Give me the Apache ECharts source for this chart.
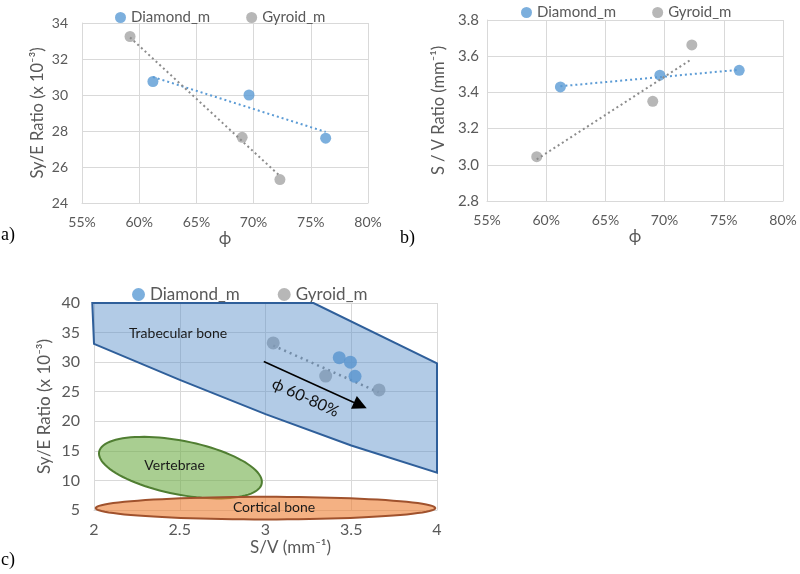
<!DOCTYPE html>
<html>
<head>
<meta charset="utf-8">
<script src="https://cdn.jsdelivr.net/npm/echarts@6/dist/echarts.min.js"></script>
<style>html,body{margin:0;padding:0;background:#fff;}#main{width:800px;height:574px;}</style>
</head>
<body>
<div id="main"></div>
<script>
// ---- data ----
const seriesNames = ['Diamond_m', 'Gyroid_m'];
const phiDiamond = [61.2, 69.6, 76.3];          // porosity %
const phiGyroid = [59.2, 69.0, 72.3];
const syeDiamond = [30.75, 30.0, 27.6];          // Sy/E ratio (x10^-3)
const syeGyroid = [33.25, 27.65, 25.3];
const svDiamond = [3.43, 3.495, 3.522];          // S/V ratio (mm^-1)
const svGyroid = [3.045, 3.351, 3.662];

// trendline end points
const trendADiamond = [[61.2, 31.0], [76.3, 27.95]];
const trendAGyroid = [[59.2, 33.2], [72.3, 25.5]];
const trendBDiamond = [[61.2, 3.434], [76.3, 3.525]];
const trendBGyroid = [[59.2, 3.03], [72.2, 3.58]];
const trendCGyroid = [[3.045, 32.8], [3.66, 24.9]];

// tick settings
const phiTicks = {min: 55, max: 80, interval: 5};
const syeTicksA = {min: 24, max: 34, interval: 2};
const svTicksB = {min: 2.8, max: 3.8, interval: 0.2};
const svTicksC = {min: 2, max: 4, interval: 0.5};
const syeTicksC = {min: 5, max: 40, interval: 5};

// regions in panel c (data coordinates)
const trabecularVerts = [[1.99, 40], [3.28, 40], [4.0, 29.8], [4.0, 11.3], [3.5, 15.9], [3.0, 21.2], [2.5, 27.0], [2.0, 33.1]];
const vertebraeEllipse = {center: [2.504, 12.16], a: [0.474, -2.69], b: [-0.030, -4.46]};
const corticalEllipse = {center: [3.0, 5.32], a: [0.99, 0], b: [0, 1.91]};
const regionLabels = [
  {name: 'Trabecular bone', pos: [2.49, 34.8]},
  {name: 'Vertebrae', pos: [2.47, 12.6]},
  {name: 'Cortical bone', pos: [3.05, 5.4]}
];
const arrowC = [[2.99, 30.1], [3.59, 22.2]];
const arrowText = 'ϕ 60-80%';

// ---- chart ----
const chart = echarts.init(document.getElementById('main'));
const FONT = 'Lato, "Open Sans", sans-serif';
const TXT = '#595959';
const GRID = '#d9d9d9';
const BLUE = '#5b9bd5';
const GRAY = '#a5a5a5';

function pts(xs, ys) { return xs.map((x, i) => [x, ys[i]]); }

function xAxisCfg(idx, ticks, fmt, name, fs, nameGap, nameFs, extra) {
  return Object.assign({
    type: 'value', gridIndex: idx, min: ticks.min, max: ticks.max, interval: ticks.interval,
    name: name, nameLocation: 'middle', nameGap: nameGap,
    nameTextStyle: {color: TXT, fontSize: nameFs, fontFamily: FONT},
    axisLine: {show: true, lineStyle: {color: GRID, width: 1}},
    axisTick: {show: false},
    axisLabel: {color: TXT, fontSize: fs, fontFamily: FONT, margin: 12, formatter: fmt},
    splitLine: {show: true, lineStyle: {color: GRID, width: 1}}
  }, extra || {});
}
function yAxisCfg(idx, ticks, fmt, name, fs, nameGap, nameFs, margin) {
  return {
    type: 'value', gridIndex: idx, min: ticks.min, max: ticks.max, interval: ticks.interval,
    name: name, nameLocation: 'middle', nameGap: nameGap, nameRotate: 90,
    nameTextStyle: {color: TXT, fontSize: nameFs, fontFamily: FONT},
    axisLine: {show: true, lineStyle: {color: GRID, width: 1}},
    axisTick: {show: false},
    axisLabel: {color: TXT, fontSize: fs, fontFamily: FONT, margin: margin, formatter: fmt},
    splitLine: {show: true, lineStyle: {color: GRID, width: 1}}
  };
}

function ellipsePoints(e, api) {
  const out = [];
  for (let k = 0; k < 96; k++) {
    const t = k / 96 * Math.PI * 2;
    const c = Math.cos(t), s = Math.sin(t);
    out.push(api.coord([e.center[0] + e.a[0] * c + e.b[0] * s, e.center[1] + e.a[1] * c + e.b[1] * s]));
  }
  return out;
}

function arrowRender(p, api) {
  const s = api.coord(arrowC[0]), e = api.coord(arrowC[1]);
  const dx = e[0] - s[0], dy = e[1] - s[1], L = Math.hypot(dx, dy);
  const ux = dx / L, uy = dy / L, nx = -uy, ny = ux;
  const hl = 14, hw = 7;
  const bx = e[0] - ux * hl, by = e[1] - uy * hl;
  const mx = (s[0] + e[0]) / 2 + nx * 14, my = (s[1] + e[1]) / 2 + ny * 14;
  return {type: 'group', children: [
    {type: 'line', shape: {x1: s[0], y1: s[1], x2: bx, y2: by}, style: {stroke: '#000', lineWidth: 1.5}},
    {type: 'polygon', shape: {points: [e, [bx + nx * hw, by + ny * hw], [bx - nx * hw, by - ny * hw]]},
     style: {fill: '#000'}},
    {type: 'text', x: mx - 4, y: my, rotation: -Math.atan2(dy, dx),
     style: {text: arrowText, fill: '#111', font: '16px ' + FONT, align: 'center', verticalAlign: 'middle',
             textAlign: 'center', textVerticalAlign: 'middle'}}
  ]};
}

const pctFmt = v => Math.round(v) + '%';

const option = {
  animation: false,
  backgroundColor: '#fff',
  grid: [
    {left: 82, top: 23, width: 286, height: 180},
    {left: 487, top: 20, width: 296, height: 181},
    {left: 94, top: 303, width: 343, height: 207}
  ],
  legend: [
    {data: seriesNames, left: 110, top: 5, icon: 'circle', itemWidth: 11, itemHeight: 11, itemGap: 36,
     textStyle: {color: TXT, fontSize: 15, fontFamily: FONT}, selectedMode: false},
    {data: seriesNames, left: 516, top: 0, icon: 'circle', itemWidth: 11, itemHeight: 11, itemGap: 36,
     textStyle: {color: TXT, fontSize: 15, fontFamily: FONT}, selectedMode: false},
    {data: seriesNames, left: 127, top: 281, icon: 'circle', itemWidth: 13, itemHeight: 13, itemGap: 38,
     textStyle: {color: TXT, fontSize: 17, fontFamily: FONT}, selectedMode: false}
  ],
  xAxis: [
    xAxisCfg(0, phiTicks, pctFmt, 'ϕ', 14, 15, 17),
    xAxisCfg(1, phiTicks, pctFmt, 'ϕ', 14, 15, 17),
    xAxisCfg(2, svTicksC, v => String(v), 'S/V (mm⁻¹)', 16, 25, 17,
      {nameTextStyle: {color: TXT, fontSize: 17, fontFamily: FONT, padding: [0, 0, 0, 50]}})
  ],
  yAxis: [
    yAxisCfg(0, syeTicksA, v => String(Math.round(v)), 'Sy/E Ratio (x 10⁻³)', 14, 36, 16.5, 14),
    yAxisCfg(1, svTicksB, v => v.toFixed(1), 'S / V Ratio (mm⁻¹)', 15, 40, 16.5, 8),
    yAxisCfg(2, syeTicksC, v => String(Math.round(v)), 'Sy/E Ratio (x 10⁻³)', 16, 41, 17, 14)
  ],
  series: [
    // panel a
    {name: 'Diamond_m', type: 'scatter', xAxisIndex: 0, yAxisIndex: 0, symbolSize: 11,
     itemStyle: {color: BLUE}, data: pts(phiDiamond, syeDiamond), z: 3},
    {name: 'Gyroid_m', type: 'scatter', xAxisIndex: 0, yAxisIndex: 0, symbolSize: 11,
     itemStyle: {color: GRAY}, data: pts(phiGyroid, syeGyroid), z: 3},
    {name: 'trendA_D', type: 'line', xAxisIndex: 0, yAxisIndex: 0, symbol: 'none', data: trendADiamond,
     lineStyle: {color: BLUE, width: 2, type: [2, 3]}, z: 4},
    {name: 'trendA_G', type: 'line', xAxisIndex: 0, yAxisIndex: 0, symbol: 'none', data: trendAGyroid,
     lineStyle: {color: '#8c8c8c', width: 2, type: [2, 3]}, z: 4},
    // panel b
    {name: 'Diamond_m', type: 'scatter', xAxisIndex: 1, yAxisIndex: 1, symbolSize: 11,
     itemStyle: {color: BLUE}, data: pts(phiDiamond, svDiamond), z: 3},
    {name: 'Gyroid_m', type: 'scatter', xAxisIndex: 1, yAxisIndex: 1, symbolSize: 11,
     itemStyle: {color: GRAY}, data: pts(phiGyroid, svGyroid), z: 3},
    {name: 'trendB_D', type: 'line', xAxisIndex: 1, yAxisIndex: 1, symbol: 'none', data: trendBDiamond,
     lineStyle: {color: BLUE, width: 2, type: [2, 3]}, z: 4},
    {name: 'trendB_G', type: 'line', xAxisIndex: 1, yAxisIndex: 1, symbol: 'none', data: trendBGyroid,
     lineStyle: {color: '#8c8c8c', width: 2, type: [2, 3]}, z: 4},
    // panel c : regions
    {name: 'vertebrae', type: 'custom', xAxisIndex: 2, yAxisIndex: 2, clip: false, z: 2, silent: true,
     data: [vertebraeEllipse.center],
     renderItem: (p, api) => ({type: 'polygon', shape: {points: ellipsePoints(vertebraeEllipse, api)},
       style: {fill: 'rgba(112,173,71,0.6)', stroke: '#507e32', lineWidth: 2}})},
    {name: 'cortical', type: 'custom', xAxisIndex: 2, yAxisIndex: 2, clip: false, z: 2, silent: true,
     data: [corticalEllipse.center],
     renderItem: (p, api) => ({type: 'polygon', shape: {points: ellipsePoints(corticalEllipse, api)},
       style: {fill: 'rgba(237,125,49,0.6)', stroke: '#a0522d', lineWidth: 2}})},
    {name: 'Diamond_m', type: 'scatter', xAxisIndex: 2, yAxisIndex: 2, symbolSize: 13,
     itemStyle: {color: BLUE}, data: pts(svDiamond, syeDiamond), z: 3},
    {name: 'Gyroid_m', type: 'scatter', xAxisIndex: 2, yAxisIndex: 2, symbolSize: 13,
     itemStyle: {color: GRAY}, data: pts(svGyroid, syeGyroid), z: 3},
    {name: 'trendC_G', type: 'line', xAxisIndex: 2, yAxisIndex: 2, symbol: 'none', data: trendCGyroid,
     lineStyle: {color: '#8c8c8c', width: 2.5, type: [2, 4]}, z: 3},
    {name: 'trabecular', type: 'custom', xAxisIndex: 2, yAxisIndex: 2, clip: false, z: 5, silent: true,
     data: [trabecularVerts[0]],
     renderItem: (p, api) => ({type: 'polygon', shape: {points: trabecularVerts.map(v => api.coord(v))},
       style: {fill: 'rgba(85,140,200,0.45)', stroke: '#2f5f9a', lineWidth: 2}})},
    {name: 'labels', type: 'custom', xAxisIndex: 2, yAxisIndex: 2, clip: false, z: 6, silent: true,
     data: regionLabels.map(r => r.pos),
     renderItem: (p, api) => {
       const c = api.coord([api.value(0), api.value(1)]);
       return {type: 'text', x: c[0], y: c[1],
         style: {text: regionLabels[p.dataIndex].name, fill: '#1a1a1a', font: '14px ' + FONT,
                 align: 'center', verticalAlign: 'middle', textAlign: 'center', textVerticalAlign: 'middle'}};
     }},
    {name: 'arrow', type: 'custom', xAxisIndex: 2, yAxisIndex: 2, clip: false, z: 7, silent: true,
     data: [arrowC[0]], renderItem: arrowRender}
  ],
  graphic: [
    {type: 'text', left: 1, top: 226, style: {text: 'a)', font: '18px "Liberation Serif", serif', fill: '#000'}},
    {type: 'text', left: 400, top: 229, style: {text: 'b)', font: '18px "Liberation Serif", serif', fill: '#000'}},
    {type: 'text', left: 1, top: 551, style: {text: 'c)', font: '18px "Liberation Serif", serif', fill: '#000'}}
  ]
};
chart.setOption(option);
</script>
</body>
</html>
